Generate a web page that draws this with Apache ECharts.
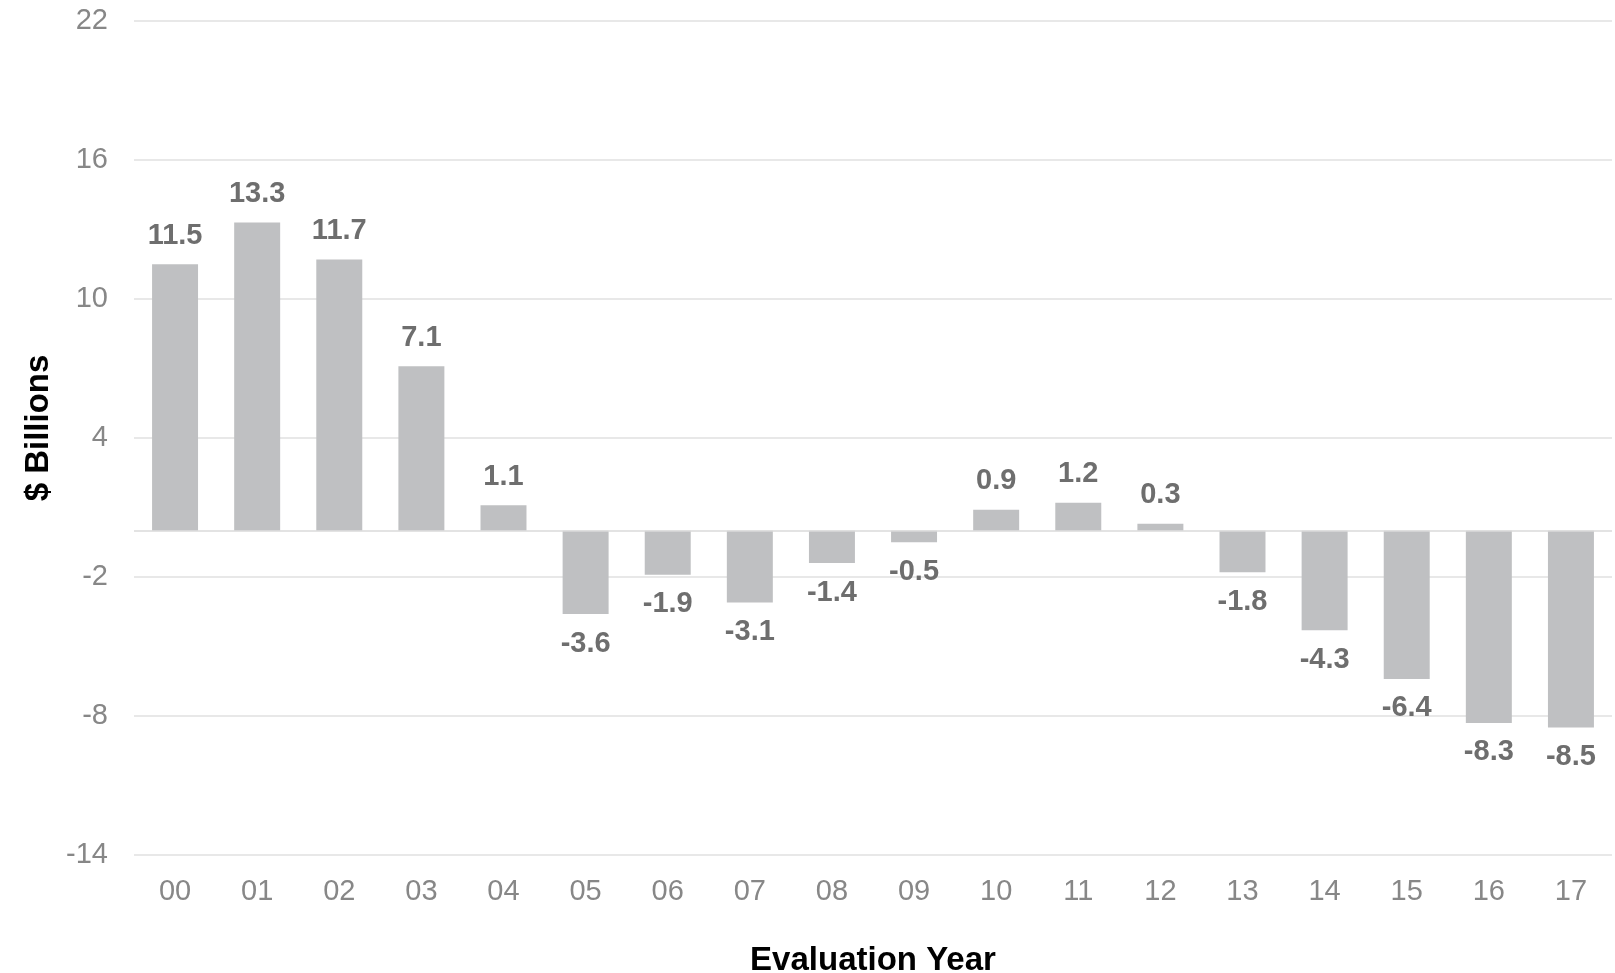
<!DOCTYPE html>
<html>
<head>
<meta charset="utf-8">
<script src="https://cdn.jsdelivr.net/npm/echarts@6/dist/echarts.min.js"></script>
<style>
html,body{margin:0;padding:0;background:#fff;}
#chart{width:1615px;height:973px;}
</style>
</head>
<body>
<div id="chart"></div>
<script>
const categories = ['00','01','02','03','04','05','06','07','08','09','10','11','12','13','14','15','16','17'];
const values = [11.5, 13.3, 11.7, 7.1, 1.1, -3.6, -1.9, -3.1, -1.4, -0.5, 0.9, 1.2, 0.3, -1.8, -4.3, -6.4, -8.3, -8.5];
const yTicks = [-14, -8, -2, 4, 10, 16, 22];
const xAxisName = 'Evaluation Year';
const yAxisName = '$ Billions';

const FONT = "'Liberation Sans', Arial, sans-serif";
const chart = echarts.init(document.getElementById('chart'));

const seriesData = values.map(v => ({
  value: v,
  label: v < 0 ? { position: 'bottom', distance: 15 } : { position: 'top', distance: 14 }
}));

chart.setOption({
  animation: false,
  backgroundColor: '#ffffff',
  grid: { left: 134, right: 3, top: 21, bottom: 118, containLabel: false, outerBoundsMode: 'none' },
  xAxis: {
    type: 'category',
    data: categories,
    name: xAxisName,
    nameLocation: 'middle',
    nameGap: 89,
    nameTextStyle: { fontFamily: FONT, fontSize: 33, fontWeight: 'bold', color: '#000000' },
    axisLine: { show: false, onZero: false },
    axisTick: { show: false },
    axisLabel: { fontFamily: FONT, fontSize: 29, color: '#878787', margin: 22 }
  },
  yAxis: {
    type: 'value',
    min: yTicks[0],
    max: yTicks[yTicks.length - 1],
    interval: yTicks[1] - yTicks[0],
    name: yAxisName,
    nameLocation: 'middle',
    nameGap: 79,
    nameRotate: 90,
    nameTextStyle: { fontFamily: FONT, fontSize: 33, fontWeight: 'bold', color: '#000000', padding: [0, 0, 0, 20] },
    axisLine: { show: false },
    axisTick: { show: false },
    axisLabel: { fontFamily: FONT, fontSize: 29, color: '#878787', margin: 26 },
    splitLine: { lineStyle: { color: '#e0e0e0', width: 1.5 } }
  },
  series: [{
    type: 'bar',
    data: seriesData,
    barWidth: '56%',
    itemStyle: { color: '#bfc0c2' },
    label: {
      show: true,
      fontFamily: FONT,
      fontSize: 29,
      fontWeight: 'bold',
      color: '#6e6e6e',
      formatter: p => p.value.toFixed(1)
    },
    markLine: {
      silent: true,
      symbol: 'none',
      label: { show: false },
      lineStyle: { color: '#dadada', width: 1.5, type: 'solid' },
      data: [{ yAxis: 0 }]
    }
  }]
});
</script>
</body>
</html>
